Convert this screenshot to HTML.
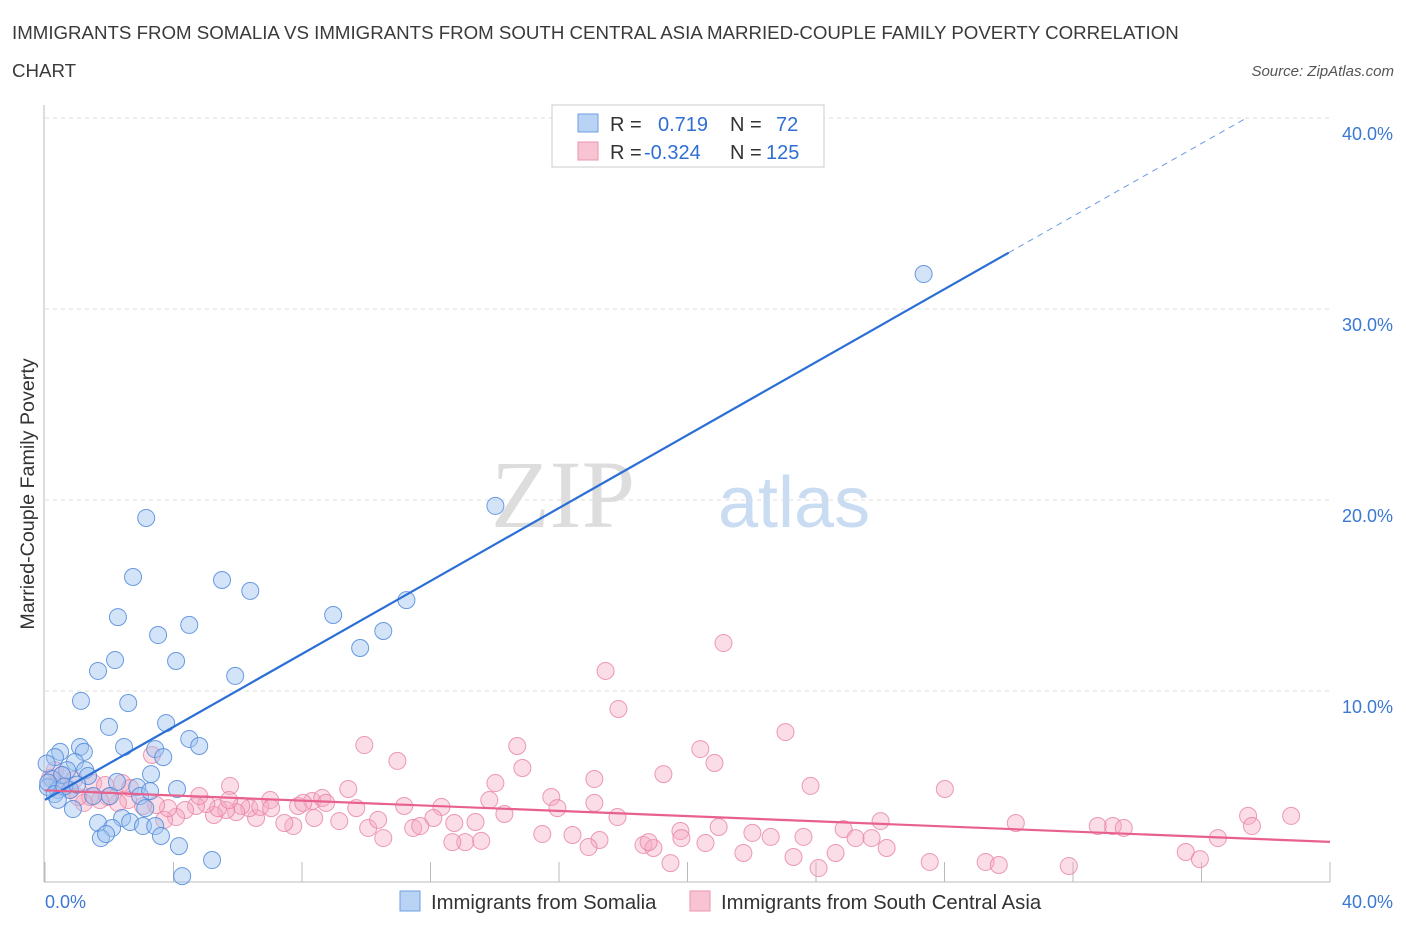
<!DOCTYPE html>
<html><head><meta charset="utf-8"><style>
body{margin:0;background:#fff;font-family:"Liberation Sans",sans-serif;}
#c{position:relative;width:1406px;height:930px;}
</style></head><body>
<div id="c">
<svg id="s" width="1406" height="930">
<text x="12" y="39" font-size="18.7" fill="#3a3a3a">IMMIGRANTS FROM SOMALIA VS IMMIGRANTS FROM SOUTH CENTRAL ASIA MARRIED-COUPLE FAMILY POVERTY CORRELATION</text>
<text x="12" y="77" font-size="18.7" fill="#3a3a3a">CHART</text>
<text x="1394" y="76" font-size="15" font-style="italic" fill="#555" text-anchor="end">Source: ZipAtlas.com</text>
<text x="635" y="527" font-size="96" font-family="Liberation Serif,serif" fill="#ddd" text-anchor="end">ZIP</text>
<text x="718" y="527" font-size="72" fill="#c9dcf2">atlas</text>
<text transform="translate(34,494) rotate(-90)" font-size="19.7" fill="#333" text-anchor="middle">Married-Couple Family Poverty</text>
<g id="grid"></g><g id="pts"></g><g id="lines"></g>
<rect x="552" y="105" width="272" height="62" fill="#fff" stroke="#ccc"/>
<rect x="578" y="114" width="20" height="18" fill="#b9d3f5" stroke="#6e9fe0"/>
<rect x="578" y="142" width="20" height="18" fill="#f8c4d3" stroke="#eb94ae"/>
<g font-size="20" fill="#333"><text x="610" y="131">R =</text><text x="730" y="131">N =</text><text x="610" y="159">R =</text><text x="730" y="159">N =</text></g>
<g font-size="20" fill="#2f6fd1"><text x="658" y="131">0.719</text><text x="776" y="131">72</text><text x="644" y="159">-0.324</text><text x="766" y="159">125</text></g>
<rect x="400" y="891" width="20" height="20" fill="#b9d3f5" stroke="#6e9fe0"/>
<text x="431" y="909" font-size="20.3" fill="#333">Immigrants from Somalia</text>
<rect x="690" y="891" width="20" height="20" fill="#f8c4d3" stroke="#eb94ae"/>
<text x="721" y="909" font-size="20.3" fill="#333">Immigrants from South Central Asia</text>
</svg></div>
<script>
const blueX=[3.15,2.74,5.51,6.39,2.27,3.52,4.49,4.08,2.18,1.65,5.92,1.12,2.59,1.99,3.77,4.49,4.80,2.46,3.43,3.68,3.30,4.11,2.87,2.96,2.24,1.09,1.21,0.47,0.31,0.93,0.69,1.25,1.34,0.22,0.09,0.40,0.87,1.50,2.02,1.65,2.40,2.65,3.05,2.09,1.74,1.90,3.43,3.61,4.17,5.20,4.27,27.35,14.02,11.25,8.97,10.53,9.81,3.12,3.27,0.78,0.53,0.05,0.1,0.3,0.6,1.0,0.4];
const blueY=[19.06,15.97,15.81,15.24,13.87,12.93,13.46,11.57,11.62,11.05,10.79,9.48,9.37,8.12,8.32,7.49,7.12,7.07,6.96,6.54,5.65,4.87,4.97,4.50,5.24,7.07,6.81,6.81,6.54,6.28,5.86,5.86,5.55,5.39,4.97,4.82,3.82,4.50,4.50,3.09,3.35,3.14,2.93,2.83,2.30,2.51,2.93,2.41,1.88,1.15,0.31,31.83,19.69,14.76,13.98,13.14,12.25,3.87,4.76,4.82,5.60,6.2,5.2,4.6,5.0,5.1,4.3];
const pinkX=[21.12,17.45,17.85,23.05,9.94,14.70,20.40,10.97,20.84,14.86,19.25,17.10,14.02,23.83,28.01,9.44,5.76,3.33,15.76,13.83,11.18,12.34,15.95,17.10,14.30,17.82,26.01,30.22,37.45,38.79,33.24,33.58,37.57,36.51,20.97,19.78,19.81,22.02,22.59,23.61,24.86,25.23,25.73,26.20,21.74,23.30,24.08,24.61,19.47,18.63,18.94,18.79,20.56,17.26,16.92,16.42,15.48,13.08,12.68,13.58,10.53,10.06,11.46,12.09,11.68,10.37,12.74,13.40,9.16,8.38,7.73,7.45,6.57,6.36,6.11,5.95,7.01,6.70,7.88,8.32,8.63,8.75,9.69,8.04,5.64,5.26,5.39,5.02,4.70,4.36,4.08,3.71,3.83,3.46,3.05,2.59,2.27,1.96,1.71,1.40,1.21,1.03,0.78,0.56,0.37,0.16,0.31,0.53,0.90,1.50,1.87,2.40,2.65,4.80,5.73,7.04,27.54,29.28,29.69,31.87,35.51,35.95,32.77];
const pinkY=[12.51,11.05,9.06,7.85,7.17,7.12,6.96,6.34,6.23,5.97,5.65,5.39,5.18,5.03,4.87,4.87,5.03,6.65,4.45,4.29,3.98,3.93,3.87,4.14,3.56,3.40,3.19,3.09,3.46,3.46,2.93,2.83,2.93,2.30,2.88,2.67,2.30,2.57,2.36,2.36,2.77,2.30,2.30,1.78,1.52,1.31,0.73,1.52,0.99,1.94,1.78,2.09,2.04,2.20,1.83,2.46,2.51,2.09,2.09,2.15,2.30,2.83,2.83,3.35,2.93,3.25,3.09,3.14,3.19,3.35,2.93,3.09,3.35,3.87,3.98,3.66,4.29,3.93,3.98,4.24,4.40,4.14,3.87,4.14,3.77,3.51,3.87,4.08,3.98,3.77,3.40,3.25,3.87,4.03,3.98,4.29,4.14,4.45,4.29,4.45,4.14,4.45,4.82,4.97,5.18,5.45,5.86,5.60,5.34,5.18,5.08,5.18,4.92,4.50,4.29,3.87,1.05,1.05,0.89,0.84,1.57,1.20,2.93];
const yTicks=[10,20,30,40];
const xTicks=[0,4,8,12,16,20,24,28,32,36,40];
const blueTrend=[[0,4.3],[30,32.95],[37.4,40]];
const pinkTrend=[[0,4.8],[40,2.1]];
const NS='http://www.w3.org/2000/svg';
const sx=v=>45+v*32.125, sy=v=>882-v*19.1;
function mk(t,a,p){const e=document.createElementNS(NS,t);for(const k in a)e.setAttribute(k,a[k]);p.appendChild(e);return e;}
const grid=document.getElementById('grid'),pts=document.getElementById('pts'),lines=document.getElementById('lines');
yTicks.forEach(v=>{
 const l=mk('line',{x1:45,x2:1330,y1:sy(v),y2:sy(v),stroke:'#ddd','stroke-dasharray':'4 4'},grid);
 
 
 const t=mk('text',{x:1393,y:sy(v)+22,'font-size':18,fill:'#3b78d4','text-anchor':'end'},grid);
 t.textContent=v.toFixed(1)+'%';
 
 
});
mk('line',{x1:44,x2:44,y1:105,y2:882,stroke:'#bbb'},grid);
mk('line',{x1:44,x2:1330,y1:882,y2:882,stroke:'#bbb'},grid);
xTicks.forEach(v=>{
 const l=mk('line',{x1:sx(v),x2:sx(v),y1:862,y2:882,stroke:'#bbb'},grid);
 
 
});
[[0,'start',45],[40,'end',1393]].forEach(([v,a,x])=>{
 const t=mk('text',{x:x,y:908,'font-size':18,fill:'#3b78d4','text-anchor':a},grid);
 t.textContent=v.toFixed(1)+'%';
 
 
});
pinkX.forEach((x,i)=>{
 const c=mk('circle',{cx:sx(x),cy:sy(pinkY[i]),r:8.5,fill:'rgba(244,170,195,0.4)',stroke:'rgba(232,130,162,0.8)','stroke-width':1},pts);
 
 
});
blueX.forEach((x,i)=>{
 const c=mk('circle',{cx:sx(x),cy:sy(blueY[i]),r:8.5,fill:'rgba(160,196,240,0.45)',stroke:'rgba(80,138,218,0.85)','stroke-width':1},pts);
 
 
});
const b1=mk('line',{x1:sx(blueTrend[0][0]),y1:sy(blueTrend[0][1]),x2:sx(blueTrend[1][0]),y2:sy(blueTrend[1][1]),stroke:'#2b6fd6','stroke-width':2.2},lines);


const b2=mk('line',{x1:sx(blueTrend[1][0]),y1:sy(blueTrend[1][1]),x2:sx(blueTrend[2][0]),y2:sy(blueTrend[2][1]),stroke:'#6a9be0','stroke-width':1,'stroke-dasharray':'6 5'},lines);


const p1=mk('line',{x1:sx(pinkTrend[0][0]),y1:sy(pinkTrend[0][1]),x2:sx(pinkTrend[1][0]),y2:sy(pinkTrend[1][1]),stroke:'#e8608e','stroke-width':2.2},lines);


</script>
</body></html>
